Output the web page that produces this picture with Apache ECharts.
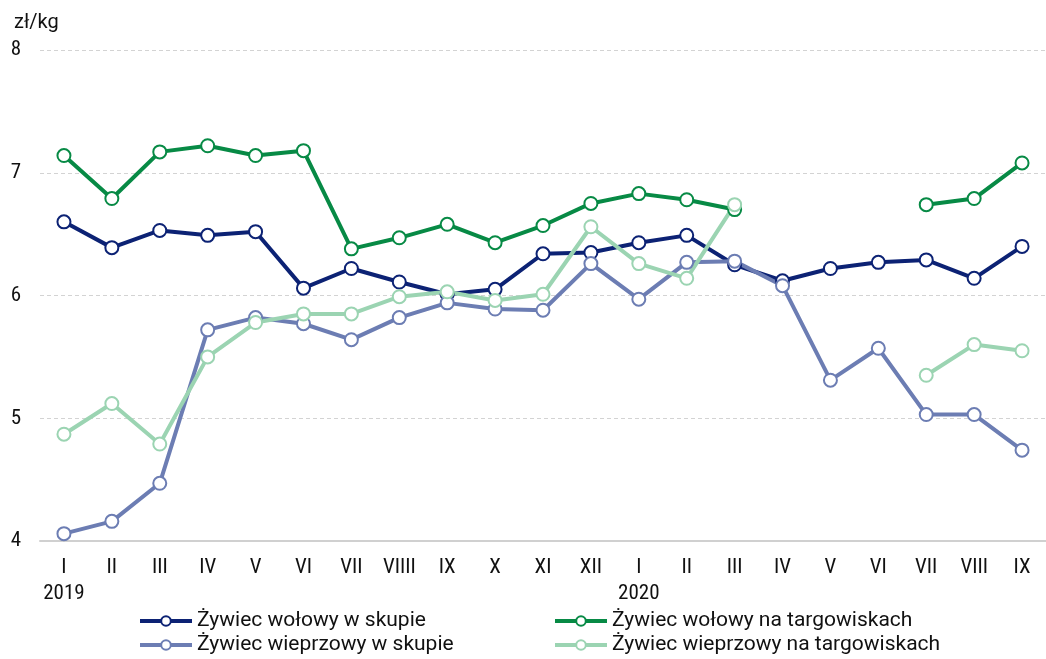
<!DOCTYPE html>
<html>
<head>
<meta charset="utf-8">
<script src="https://cdn.jsdelivr.net/npm/echarts@6/dist/echarts.min.js"></script>
<style>
  html, body { margin: 0; padding: 0; background: #fff; }
  #main { width: 1046px; height: 659px; }
</style>
</head>
<body>
<div id="main"></div>
<script>
"use strict";

var months = ['I', 'II', 'III', 'IV', 'V', 'VI', 'VII', 'VIIII', 'IX', 'X', 'XI', 'XII',
              'I', 'II', 'III', 'IV', 'V', 'VI', 'VII', 'VIII', 'IX'];
var years = { 0: '2019', 12: '2020' };

var wolowySkup = [6.60, 6.39, 6.53, 6.49, 6.52, 6.06, 6.22, 6.11, 6.01, 6.05, 6.34, 6.35,
                  6.43, 6.49, 6.25, 6.12, 6.22, 6.27, 6.29, 6.14, 6.40];
var wolowyTarg = [7.14, 6.79, 7.17, 7.22, 7.14, 7.18, 6.38, 6.47, 6.58, 6.43, 6.57, 6.75,
                  6.83, 6.78, 6.70, null, null, null, 6.74, 6.79, 7.08];
var wieprzSkup = [4.06, 4.16, 4.47, 5.72, 5.82, 5.77, 5.64, 5.82, 5.94, 5.89, 5.88, 6.26,
                  5.97, 6.27, 6.28, 6.08, 5.31, 5.57, 5.03, 5.03, 4.74];
var wieprzTarg = [4.87, 5.12, 4.79, 5.50, 5.78, 5.85, 5.85, 5.99, 6.03, 5.96, 6.01, 6.56,
                  6.26, 6.14, 6.74, null, null, null, 5.35, 5.60, 5.55];

var font = "Roboto, 'Noto Sans', sans-serif";
var axisFont = "'Roboto Condensed', Roboto, sans-serif";

var myChart = echarts.init(document.getElementById('main'));

function line(name, data, color) {
    return {
        name: name,
        type: 'line',
        data: data,
        symbol: 'emptyCircle',
        symbolSize: 13,
        showAllSymbol: true,
        connectNulls: false,
        lineStyle: { width: 4, color: color },
        itemStyle: { color: color, borderWidth: 3.5, borderColor: color },
        emphasis: { disabled: true }
    };
}

var legendText = { fontFamily: font, fontSize: 21, color: '#111', lineHeight: 22 };

function legendCol(names, left) {
    return {
        data: names,
        orient: 'vertical',
        left: left,
        top: 610,
        height: 49,
        padding: 0,
        itemWidth: 52,
        itemHeight: 12,
        itemGap: 2,
        lineStyle: { width: 4 },
        itemStyle: { borderWidth: 3 },
        textStyle: legendText
    };
}

var option = {
    animation: false,
    textStyle: { fontFamily: font },
    title: {
        text: 'zł/kg',
        left: 9,
        top: 8,
        textStyle: { fontFamily: font, fontSize: 20, fontWeight: 'normal', color: '#111' }
    },
    grid: { left: 40, right: -7, top: 50, bottom: 118, containLabel: false },
    legend: [
        legendCol(['Żywiec wołowy w skupie', 'Żywiec wieprzowy w skupie'], 138),
        legendCol(['Żywiec wołowy na targowiskach', 'Żywiec wieprzowy na targowiskach'], 553)
    ],
    xAxis: {
        type: 'category',
        data: months,
        boundaryGap: true,
        axisLine: { lineStyle: { color: '#d0d0d0', width: 2 } },
        axisTick: { show: false },
        axisLabel: {
            interval: 0,
            margin: 14,
            color: '#111',
            fontFamily: axisFont,
            fontSize: 21,
            lineHeight: 26,
            formatter: function (value, idx) {
                return years[idx] ? value + '\n' + years[idx] : value;
            }
        }
    },
    yAxis: {
        type: 'value',
        min: 4,
        max: 8,
        interval: 1,
        axisLine: { show: false },
        axisTick: { show: false },
        axisLabel: { color: '#111', fontFamily: axisFont, fontSize: 21, margin: 19 },
        splitLine: { lineStyle: { color: '#d3d3d3', type: [4, 3], width: 1 } }
    },
    series: [
        line('Żywiec wołowy w skupie', wolowySkup, '#0c2274'),
        line('Żywiec wołowy na targowiskach', wolowyTarg, '#078a45'),
        line('Żywiec wieprzowy w skupie', wieprzSkup, '#6c7db3'),
        line('Żywiec wieprzowy na targowiskach', wieprzTarg, '#9bd4b2')
    ]
};
myChart.setOption(option);
</script>
</body>
</html>
